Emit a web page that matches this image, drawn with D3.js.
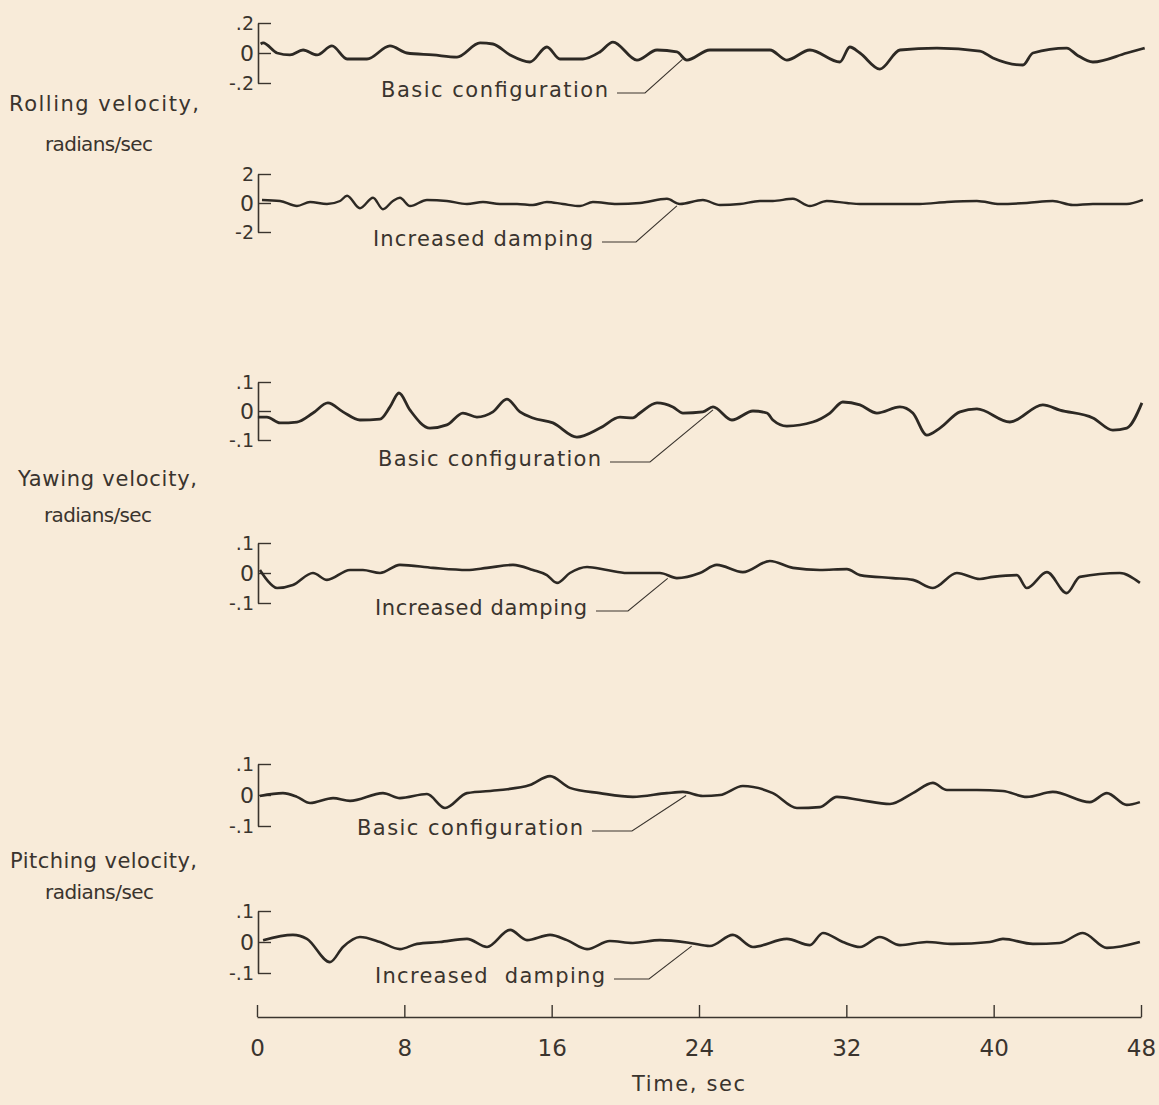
<!DOCTYPE html>
<html>
<head>
<meta charset="utf-8">
<script src="https://cdn.jsdelivr.net/npm/d3@7"></script>
<style>
  html, body { margin: 0; padding: 0; background: #f8ebd9; }
  svg { display: block; }
  text { font-family: "DejaVu Sans", sans-serif; fill: #3a342e; }
</style>
</head>
<body>
<div id="root"></div>
<script>
// time axis (sec)
const timeTicks = [0, 8, 16, 24, 32, 40, 48];

// [time (sec), value (radians/sec)]
const rollingBasic = [
  [0.2, 0.06], [0.33, 0.067], [1.09, 0], [1.79, -0.013], [2.5, 0.02], [3.26, -0.013],
  [4.07, 0.047], [4.89, -0.04], [5.97, -0.04], [7.22, 0.047], [8.14, 0], [9.55, -0.013],
  [10.86, -0.027], [12.11, 0.067], [12.81, 0.06], [13.74, -0.013], [14.82, -0.06],
  [15.74, 0.04], [16.45, -0.04], [17.7, -0.04], [18.62, 0.007], [19.33, 0.073],
  [20.63, -0.047], [21.72, 0.02], [22.8, 0.007], [23.34, -0.047], [24.59, 0.02],
  [27.85, 0.02], [28.77, -0.047], [30.02, 0.02], [31.65, -0.06], [32.19, 0.04],
  [32.74, 0], [33.82, -0.107], [34.91, 0.02], [36.92, 0.033], [39.25, 0.013],
  [39.96, -0.033], [41.59, -0.08], [42.13, 0], [43.97, 0.033], [44.52, -0.013],
  [45.39, -0.06], [47.23, 0], [48.2, 0.033]
];
const rollingDamped = [
  [0.27, 0.21], [1.25, 0.14], [2.17, -0.21], [2.88, 0.07], [3.8, -0.07], [4.51, 0.14],
  [4.89, 0.5], [5.59, -0.36], [6.3, 0.36], [6.84, -0.43], [7.38, 0.14], [7.76, 0.36],
  [8.31, -0.21], [9.23, 0.21], [10.31, 0.14], [11.4, -0.07], [12.27, 0.07], [13.19, -0.07],
  [14.12, -0.07], [14.98, -0.14], [15.74, 0.07], [16.61, -0.07], [17.54, -0.21],
  [18.24, 0.07], [19.54, -0.07], [20.79, 0], [22.26, 0.29], [22.96, -0.07], [24.21, 0.21],
  [25.14, -0.14], [26.22, -0.07], [27.31, 0.14], [28.01, 0.14], [29.1, 0.29],
  [30.02, -0.21], [30.94, 0.14], [32.03, 0], [32.74, -0.07], [34.53, -0.07],
  [35.99, -0.07], [37.46, 0.07], [39.09, 0.14], [40.34, -0.07], [41.8, 0], [43.21, 0.14],
  [44.3, -0.14], [45.39, -0.07], [47.23, -0.07], [48.1, 0.21]
];
const yawingBasic = [
  [0.05, -0.021], [0.54, -0.021], [1.25, -0.041], [2.17, -0.038], [3.04, -0.007],
  [3.85, 0.028], [4.67, -0.003], [5.59, -0.031], [6.68, -0.028], [7.22, 0.014],
  [7.71, 0.062], [8.31, 0.003], [9.39, -0.059], [10.31, -0.048], [11.18, -0.007],
  [11.94, -0.021], [12.81, -0.003], [13.57, 0.041], [14.28, -0.003], [14.98, -0.024],
  [16.07, -0.041], [17.37, -0.09], [18.62, -0.059], [19.71, -0.021], [20.41, -0.024],
  [20.79, -0.007], [21.72, 0.028], [22.58, 0.014], [23.13, -0.007], [24.21, -0.003],
  [24.76, 0.014], [25.79, -0.031], [26.93, 0], [27.69, -0.007], [28.01, -0.031],
  [28.77, -0.052], [30.18, -0.038], [31.11, -0.007], [31.81, 0.031], [32.74, 0.021],
  [33.66, -0.007], [34.91, 0.014], [35.61, -0.007], [36.37, -0.083], [37.08, -0.059],
  [38.17, -0.003], [39.09, 0.007], [40.88, -0.038], [42.67, 0.021], [43.59, 0.003],
  [45.39, -0.024], [46.47, -0.066], [47.23, -0.059], [48.05, 0.028]
];
const yawingDamped = [
  [0.16, 0.01], [0.54, -0.023], [1.09, -0.05], [1.95, -0.04], [3.04, 0], [3.8, -0.023],
  [5.05, 0.01], [5.75, 0.01], [6.68, 0], [7.76, 0.027], [9.55, 0.017], [11.4, 0.01],
  [12.49, 0.017], [13.9, 0.027], [14.98, 0.01], [15.74, -0.007], [16.29, -0.033],
  [16.99, 0], [17.92, 0.02], [19.0, 0.01], [20.09, 0], [21.88, 0], [22.8, -0.017],
  [24.05, 0], [24.97, 0.027], [26.38, 0.003], [27.85, 0.04], [29.1, 0.017], [30.56, 0.01],
  [32.03, 0.013], [32.74, -0.007], [34.53, -0.017], [35.61, -0.023], [36.7, -0.05],
  [38.0, 0], [39.25, -0.02], [39.96, -0.013], [41.26, -0.007], [41.8, -0.05],
  [42.89, 0.003], [43.97, -0.067], [44.68, -0.013], [46.85, 0], [47.94, -0.033]
];
const pitchingBasic = [
  [0.16, -0.003], [1.41, 0.006], [2.17, -0.006], [2.88, -0.026], [4.13, -0.01],
  [5.05, -0.019], [6.84, 0.006], [7.76, -0.01], [9.23, 0.003], [10.21, -0.042],
  [11.4, 0.006], [13.19, 0.016], [14.82, 0.032], [15.91, 0.061], [16.99, 0.023],
  [18.62, 0.006], [20.41, -0.006], [22.26, 0.006], [23.13, 0.01], [24.21, -0.003],
  [25.14, 0], [26.38, 0.029], [28.01, 0.006], [29.32, -0.042], [30.56, -0.039],
  [31.49, -0.006], [32.74, -0.016], [34.37, -0.029], [35.61, 0.006], [36.7, 0.039],
  [37.46, 0.016], [39.09, 0.016], [40.5, 0.013], [41.8, -0.006], [43.21, 0.01],
  [45.22, -0.023], [46.15, 0.006], [47.23, -0.032], [47.94, -0.023]
];
const pitchingDamped = [
  [0.33, 0.006], [1.95, 0.023], [2.71, 0.01], [3.96, -0.065], [4.67, -0.016],
  [5.59, 0.016], [6.68, 0], [7.76, -0.023], [8.69, -0.006], [9.93, 0], [11.4, 0.01],
  [12.49, -0.016], [13.74, 0.039], [14.66, 0.006], [15.91, 0.023], [16.83, 0.006],
  [17.92, -0.023], [19.16, 0.003], [20.41, -0.003], [21.88, 0.006], [23.51, -0.003],
  [24.59, -0.013], [25.84, 0.023], [26.93, -0.016], [28.77, 0.01], [30.02, -0.01],
  [30.73, 0.029], [31.81, 0], [32.74, -0.016], [33.82, 0.016], [34.91, -0.01],
  [36.37, 0], [37.79, -0.006], [39.79, 0], [40.5, 0.01], [42.13, -0.006],
  [43.59, -0.003], [44.84, 0.029], [46.15, -0.019], [47.94, 0]
];

// tick labels for each bracket (top, middle, bottom)
const rollTickLabels = [".2", "0", "-.2"];
const rollDampTickLabels = ["2", "0", "-2"];
const smallTickLabels = [".1", "0", "-.1"];

const groupTitles = [
  ["Rolling velocity,", "radians/sec"],
  ["Yawing velocity,", "radians/sec"],
  ["Pitching velocity,", "radians/sec"]
];

const width = 1159;
const height = 1105;
const ink = "#3a342e";

const xScale = d3.scaleLinear().domain([0, 48]).range([257, 1141]);

// layout of each strip: zero line, half-height of the bracket, label placement
const panels = [
  { data: rollingBasic, max: 0.2, ticks: rollTickLabels, zero: 53, half: 30, sw: 2.8,
    label: "Basic configuration", lx: 381, lw: 227, ly: 97, dash: 28, leaderT: 23.1 },
  { data: rollingDamped, max: 2, ticks: rollDampTickLabels, zero: 203, half: 29, sw: 2.4,
    label: "Increased damping", lx: 373, lw: 220, ly: 246, dash: 34, leaderT: 22.8 },
  { data: yawingBasic, max: 0.1, ticks: smallTickLabels, zero: 411, half: 29, sw: 2.8,
    label: "Basic configuration", lx: 378, lw: 223, ly: 466, dash: 40, leaderT: 24.76 },
  { data: yawingDamped, max: 0.1, ticks: smallTickLabels, zero: 573, half: 30, sw: 2.6,
    label: "Increased damping", lx: 375, lw: 212, ly: 615, dash: 32, leaderT: 22.3 },
  { data: pitchingBasic, max: 0.1, ticks: smallTickLabels, zero: 795, half: 31, sw: 2.6,
    label: "Basic configuration", lx: 357, lw: 226, ly: 835, dash: 40, leaderT: 23.3 },
  { data: pitchingDamped, max: 0.1, ticks: smallTickLabels, zero: 942, half: 31, sw: 2.6,
    label: "Increased  damping", lx: 375, lw: 230, ly: 983, dash: 35, leaderT: 23.6 }
];

// left-hand titles: start x, widths of both lines, baselines
const titlePos = [
  { x1: 9, w1: 190, x2: 45, w2: 108, y1: 111, y2: 151 },
  { x1: 18, w1: 179, x2: 44, w2: 108, y1: 486, y2: 522 },
  { x1: 10, w1: 187, x2: 45, w2: 109, y1: 868, y2: 899 }
];

const svg = d3.select("#root")
  .append("svg")
  .attr("width", width)
  .attr("height", height)
  .attr("viewBox", `0 0 ${width} ${height}`);

svg.append("rect").attr("width", width).attr("height", height).attr("fill", "#f8ebd9");

const line = d3.line()
  .x((d) => xScale(d[0]))
  .y((d) => d[1])
  .curve(d3.curveMonotoneX);

function valueAt(data, t) {
  const i = d3.bisector((d) => d[0]).left(data, t);
  if (i <= 0) return data[0][1];
  if (i >= data.length) return data[data.length - 1][1];
  const a = data[i - 1], b = data[i];
  return a[1] + (b[1] - a[1]) * (t - a[0]) / (b[0] - a[0]);
}

panels.forEach((p) => {
  const yScale = d3.scaleLinear()
    .domain([-p.max, p.max])
    .range([p.zero + p.half, p.zero - p.half]);

  // bracket axis: ticks point right, labels on the left
  const axis = d3.axisLeft(yScale)
    .tickValues([p.max, 0, -p.max])
    .tickFormat((d, i) => p.ticks[i])
    .tickSize(-13)
    .tickSizeOuter(0)
    .tickPadding(4);

  const g = svg.append("g")
    .attr("transform", `translate(${xScale(0) + 1},0)`)
    .call(axis);
  g.select(".domain").attr("stroke", ink).attr("stroke-width", 1.6);
  g.selectAll(".tick line").attr("stroke", ink).attr("stroke-width", 1.4);
  g.selectAll(".tick text")
    .attr("fill", ink)
    .attr("font-size", (d) => (d === 0 ? 22 : 19))
    .attr("font-family", "DejaVu Sans, sans-serif");

  // trace
  svg.append("path")
    .datum(p.data.map((d) => [d[0], yScale(d[1])]))
    .attr("d", line)
    .attr("fill", "none")
    .attr("stroke", "#2d2924")
    .attr("stroke-width", p.sw)
    .attr("stroke-linejoin", "round");

  // label with leader
  svg.append("text")
    .text(p.label)
    .attr("x", p.lx)
    .attr("y", p.ly)
    .attr("font-size", 21)
    .attr("textLength", p.lw)
    .attr("lengthAdjust", "spacing")
    .style("white-space", "pre");

  const x0 = p.lx + p.lw + 9;
  const yl = p.ly - 4;
  const tx = xScale(p.leaderT);
  const ty = yScale(valueAt(p.data, p.leaderT)) + 3;
  svg.append("path")
    .attr("d", `M${x0},${yl}H${x0 + p.dash}L${tx},${ty}`)
    .attr("fill", "none")
    .attr("stroke", ink)
    .attr("stroke-width", 1.1);
});

// group titles
groupTitles.forEach((t, i) => {
  const pos = titlePos[i];
  svg.append("text")
    .text(t[0])
    .attr("x", pos.x1)
    .attr("y", pos.y1)
    .attr("font-size", 21)
    .attr("textLength", pos.w1)
    .attr("lengthAdjust", "spacing");
  svg.append("text")
    .text(t[1])
    .attr("x", pos.x2)
    .attr("y", pos.y2)
    .attr("font-size", 20)
    .attr("textLength", pos.w2)
    .attr("lengthAdjust", "spacing");
});

// time axis
const xAxis = d3.axisBottom(xScale)
  .tickValues(timeTicks)
  .tickSize(-12)
  .tickSizeOuter(0)
  .tickPadding(23);

const gx = svg.append("g")
  .attr("transform", "translate(0,1017)")
  .call(xAxis);
gx.select(".domain").attr("stroke", ink).attr("stroke-width", 1.4);
gx.selectAll(".tick line").attr("stroke", ink).attr("stroke-width", 1.4);
gx.selectAll(".tick text")
  .attr("fill", ink)
  .attr("font-size", 23)
  .attr("font-family", "DejaVu Sans, sans-serif");

svg.append("text")
  .text("Time, sec")
  .attr("x", 632)
  .attr("y", 1091)
  .attr("font-size", 21)
  .attr("textLength", 113)
  .attr("lengthAdjust", "spacing");
</script>
</body>
</html>
